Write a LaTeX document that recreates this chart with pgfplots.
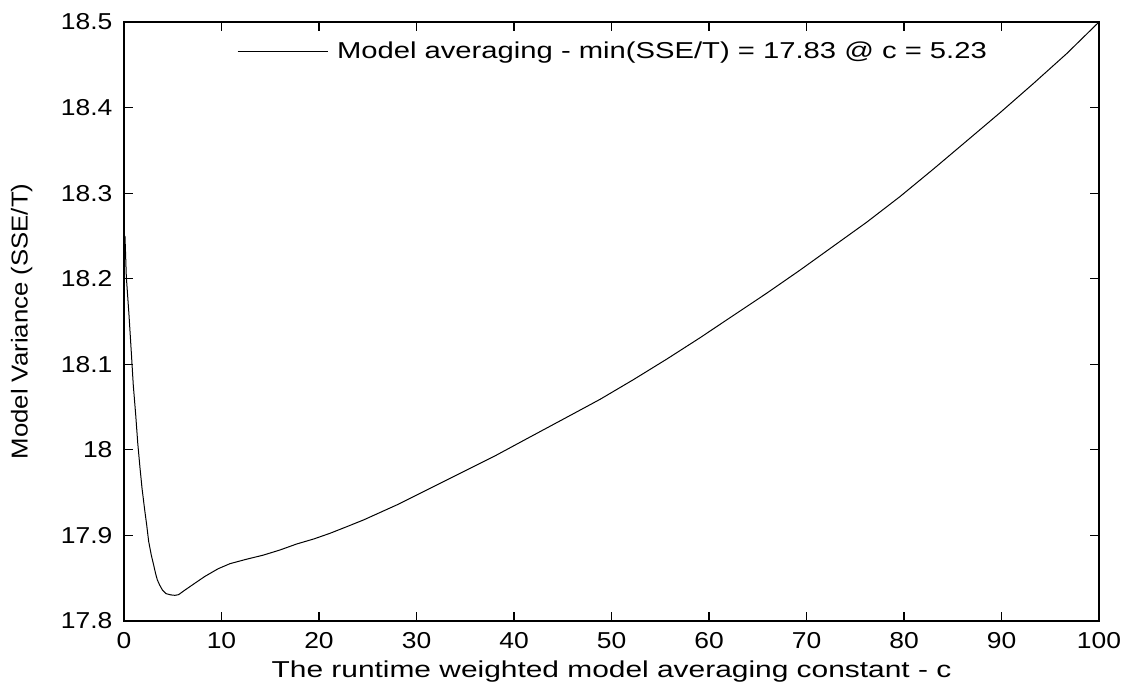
\documentclass[border=0pt]{standalone}
\usepackage{fontspec}
\setmainfont{Liberation Sans}
\usepackage{pgfplots}
\pgfplotsset{compat=1.18}

% SSE/T as a function of the model averaging constant c
\pgfplotstableread{
c      sse
0.10   18.250
0.24   18.202
0.51   18.158
0.75   18.114
0.95   18.076
1.20   18.041
1.41   18.008
1.64   17.979
1.85   17.955
2.12   17.930
2.33   17.912
2.53   17.893
2.80   17.877
3.05   17.865
3.25   17.855
3.42   17.848
3.66   17.842
3.95   17.836
4.31   17.832
4.80   17.8305
5.23   17.830
5.60   17.8308
6.23   17.836
7.25   17.844
8.28   17.852
9.64   17.861
10.87  17.867
12.50  17.872
14.29  17.877
16.00  17.883
17.71  17.890
19.50  17.896
21.13  17.9025
22.80  17.910
24.55  17.918
27.97  17.9356
31.38  17.955
34.80  17.9745
38.22  17.994
41.64  18.015
45.40  18.038
48.82  18.059
52.24  18.082
55.66  18.106
59.08  18.131
62.49  18.157
65.91  18.183
69.33  18.210
72.75  18.238
76.17  18.266
79.59  18.296
83.00  18.328
86.43  18.361
89.85  18.394
93.26  18.428
96.68  18.463
100.00 18.500
}\ssedata

\begin{document}
\begin{tikzpicture}
\useasboundingbox (-62pt,-32.5pt) rectangle (502pt,310.5pt);
\begin{axis}[
  scale only axis,
  width=487.5pt, height=299.5pt,
  xmin=0, xmax=100, ymin=17.8, ymax=18.5,
  xtick={0,10,...,100},
  ytick={17.8,17.9,18,18.1,18.2,18.3,18.4,18.5},
  tick align=inside,
  major tick length=4.5pt,
  axis line style={line width=0.7pt},
  tick style={line width=0.6pt, black},
  /pgf/number format/assume math mode=true,
  /pgf/number format/precision=2,
  tick label style={font=\fontsize{11.5}{13}\selectfont, xscale=1.15},
  xticklabel style={yshift=-2.2pt},
  yticklabel style={xshift=-1.5pt},
  label style={font=\fontsize{11.5}{13}\selectfont},
  xlabel={\scalebox{1.3}[1]{The runtime weighted model averaging constant - c}},
  ylabel={\scalebox{1.12}[1]{Model Variance (SSE/T)}},
  xlabel style={at={(axis description cs:0.5,-0.095)}, anchor=base},
  ylabel style={at={(axis description cs:-0.105,0.5)}, anchor=center},
  legend style={draw=none, fill=white, at={(axis description cs:0.1155,0.95)}, anchor=west,
    font=\fontsize{11.5}{13}\selectfont, inner sep=0pt,
    nodes={inner xsep=4.5pt}},
  legend image code/.code={\draw[#1] (0pt,0pt) -- (45pt,0pt);},
  legend cell align=left,
]
\addplot[black, line width=0.5pt] table[x=c, y=sse] {\ssedata};
\addlegendentry{\scalebox{1.27}[1]{Model averaging - min(SSE/T) = 17.83 @ c = 5.23}}
\end{axis}
\end{tikzpicture}
\end{document}
